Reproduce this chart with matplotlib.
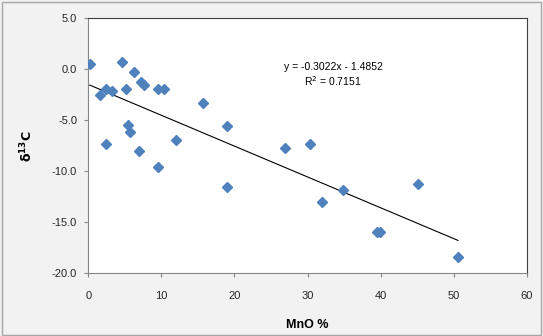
import numpy as np
import matplotlib.pyplot as plt
from matplotlib.patches import Rectangle

plt.rcParams['font.family'] = ['Liberation Sans', 'DejaVu Sans']

# MnO % and delta 13C values
mno = [0.2, 4.6, 6.3, 7.2, 7.6, 1.6, 2.4, 3.3, 5.2, 9.6, 10.4, 15.7,
       5.5, 5.7, 2.4, 6.9, 12.0, 19.0, 9.5, 19.0, 26.9, 30.3, 32.0, 34.9,
       39.5, 39.9, 45.1, 50.6]
d13c = [0.5, 0.7, -0.3, -1.25, -1.55, -2.5, -1.9, -2.1, -1.9, -1.9, -1.9, -3.3,
        -5.5, -6.15, -7.3, -8.0, -6.9, -5.6, -9.55, -11.55, -7.7, -7.3, -13.05, -11.8,
        -15.95, -15.95, -11.2, -18.4]

# trendline as printed on the chart
slope = -0.3022
intercept = -1.4852
r2 = 0.7151

xticks = [0, 10, 20, 30, 40, 50, 60]
yticks = [5.0, 0.0, -5.0, -10.0, -15.0, -20.0]

fig = plt.figure(figsize=(5.43, 3.36), dpi=100, facecolor='#f2f2f2')
fig.patches.append(Rectangle((0.003, 0.004), 0.993, 0.99, transform=fig.transFigure,
                             fill=False, edgecolor='#a6a6a6', linewidth=1))
ax = fig.add_axes([0.1626, 0.1866, 0.8074, 0.7589])
ax.set_facecolor('white')

ax.plot(mno, d13c, linestyle='none', marker='D', markersize=4.8,
        color='#4f81bd', zorder=3)

xs = np.array([min(mno), max(mno)])
ax.plot(xs, slope * xs + intercept, color='black', linewidth=0.8, zorder=2)

ax.text(33.5, 0.25, f"y = {slope}x - {abs(intercept)}", ha='center', va='center', fontsize=7.5)
ax.text(33.5, -1.2, f"R$^2$ = {r2}", ha='center', va='center', fontsize=7.5)

ax.set_xlim(0, 60)
ax.set_ylim(-20, 5)
ax.set_xticks(xticks)
ax.set_yticks(yticks)
ax.set_yticklabels([f"{v:.1f}" for v in yticks])
ax.tick_params(labelsize=8, length=3, color='#868686', pad=5, labelcolor='#262626')
ax.tick_params(axis='x', pad=10)

for side in ['left', 'bottom']:
    ax.spines[side].set_color('#868686')
for side in ['top', 'right']:
    ax.spines[side].set_color('#404040')

ax.set_xlabel("MnO %", fontsize=9, fontweight='bold', labelpad=13)
ax.set_ylabel(r"$\mathbf{\delta^{13}C}$", fontsize=9, labelpad=12)

fig.savefig('out.png', dpi=100, facecolor=fig.get_facecolor())
